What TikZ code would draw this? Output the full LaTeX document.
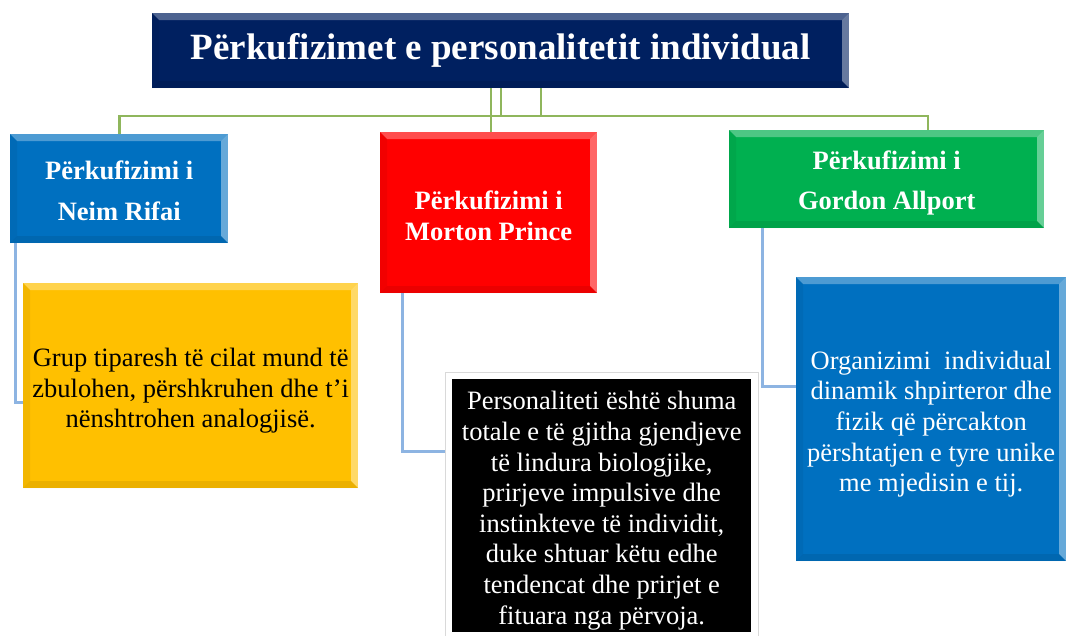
\documentclass[tikz,border=0pt]{standalone}
\usepackage{fontspec}
\setmainfont{Liberation Serif}
\definecolor{navy}{RGB}{0,32,96}
\definecolor{mblue}{RGB}{0,112,192}
\definecolor{mred}{RGB}{255,0,0}
\definecolor{mgreen}{RGB}{0,176,80}
\definecolor{myellow}{RGB}{255,192,0}
\definecolor{treegreen}{RGB}{143,182,92}
\definecolor{linkblue}{RGB}{141,180,226}
\newcommand\bxtext[3][8pt]{\parbox{#2}{\centering\vspace*{#1}#3}}
\tikzset{
  bevel/.style={path picture={
    \path (path picture bounding box.north west) coordinate (bbnw)
          (path picture bounding box.south east) coordinate (bbse);
    \fill[white,opacity=0.3] (bbnw) -- (bbnw -| bbse) -- ([shift={(-7pt,-7pt)}]bbnw -| bbse) -- ([shift={(7pt,-7pt)}]bbnw) -- cycle;
    \fill[white,opacity=0.4] (bbnw -| bbse) -- (bbse) -- ([shift={(-7pt,7pt)}]bbse) -- ([shift={(-7pt,-7pt)}]bbnw -| bbse) -- cycle;
    \fill[black,opacity=0.08] (bbse) -- (bbse -| bbnw) -- ([shift={(7pt,7pt)}]bbse -| bbnw) -- ([shift={(-7pt,7pt)}]bbse) -- cycle;
    \fill[black,opacity=0.05] (bbnw) -- (bbse -| bbnw) -- ([shift={(7pt,7pt)}]bbse -| bbnw) -- ([shift={(7pt,-7pt)}]bbnw) -- cycle;
  }},
  box/.style={anchor=north west, inner sep=0pt, align=center, bevel},
  headbox/.style={box, text=white, font=\bfseries\fontsize{26.5}{31}\selectfont},
  bodybox/.style={box, font=\fontsize{26.5}{30.6}\selectfont},
  gl/.style={draw=treegreen, line width=2.8pt},
  bl/.style={draw=linkblue, line width=3pt},
}
\begin{document}
\begin{tikzpicture}[x=1pt,y=-1pt]
\useasboundingbox (0,0) rectangle (1069,636);

% title
\node[box, fill=navy, text=white, font=\bfseries\fontsize{37}{40}\selectfont,
      minimum width=697pt, minimum height=75pt] (title) at (152,13)
      {Përkufizimet e personalitetit individual};

% second level
\node[headbox, fill=mblue, minimum width=218pt, minimum height=109pt,
      font=\bfseries\fontsize{26.5}{41}\selectfont] (b1) at (10,134)
      {\bxtext[5pt]{210pt}{Përkufizimi i\\Neim Rifai}};
\node[headbox, fill=mred, minimum width=217pt, minimum height=161pt] (red) at (380,132)
      {\bxtext[6pt]{210pt}{Përkufizimi i\\Morton Prince}};
\node[headbox, fill=mgreen, minimum width=315pt, minimum height=98pt,
      font=\bfseries\fontsize{26.5}{40}\selectfont] (green) at (729,130)
      {\bxtext[7pt]{300pt}{Përkufizimi i\\Gordon Allport}};

% third level
\node[bodybox, fill=myellow, text=black, minimum width=335pt, minimum height=205pt] (yellow) at (23,283)
      {\bxtext[10pt]{330pt}{Grup tiparesh të cilat mund të\\zbulohen, përshkruhen dhe t’i\\nënshtrohen analogjisë.}};
\node[anchor=north west, inner sep=0pt, fill=white, draw=gray!30, line width=0.8pt,
      minimum width=313pt, minimum height=268pt] (frame) at (445,372) {};
\node[anchor=north west, inner sep=0pt, align=center, fill=black, text=white,
      font=\fontsize{26.5}{30.6}\selectfont,
      minimum width=299pt, minimum height=253pt] (blackbox) at (452,379)
      {\bxtext[10pt]{295pt}{Personaliteti është shuma\\totale e të gjitha gjendjeve\\të lindura biologjike,\\prirjeve impulsive dhe\\instinkteve të individit,\\duke shtuar këtu edhe\\tendencat dhe prirjet e\\fituara nga përvoja.}};
\node[bodybox, fill=mblue, text=white, minimum width=270pt, minimum height=284pt] (blue2) at (796,277)
      {\bxtext[10pt]{266pt}{Organizimi\ \ individual\\dinamik shpirteror dhe\\fizik që përcakton\\përshtatjen e tyre unike\\me mjedisin e tij.}};

% tree connectors
\coordinate (tx) at (491,0);
\coordinate (h2) at (928,116);
\coordinate (r1) at (501,116);
\coordinate (r2) at (541,116);
\draw[gl] (title.south -| tx) -- (red.north -| tx);
\draw[gl] (b1.north) |- (h2) -- (green.north -| h2);
\draw[gl] (title.south -| r1) -- (r1) -- (r2) -- (title.south -| r2);

% blue connectors
\coordinate (c1) at (15,403);
\coordinate (c2) at (402,451);
\coordinate (c3) at (762,387);
\draw[bl] (b1.south -| c1) |- (yellow.west |- c1);
\draw[bl] (red.south -| c2) |- (frame.west |- c2);
\draw[bl] (green.south -| c3) |- (blue2.west |- c3);
\end{tikzpicture}
\end{document}
